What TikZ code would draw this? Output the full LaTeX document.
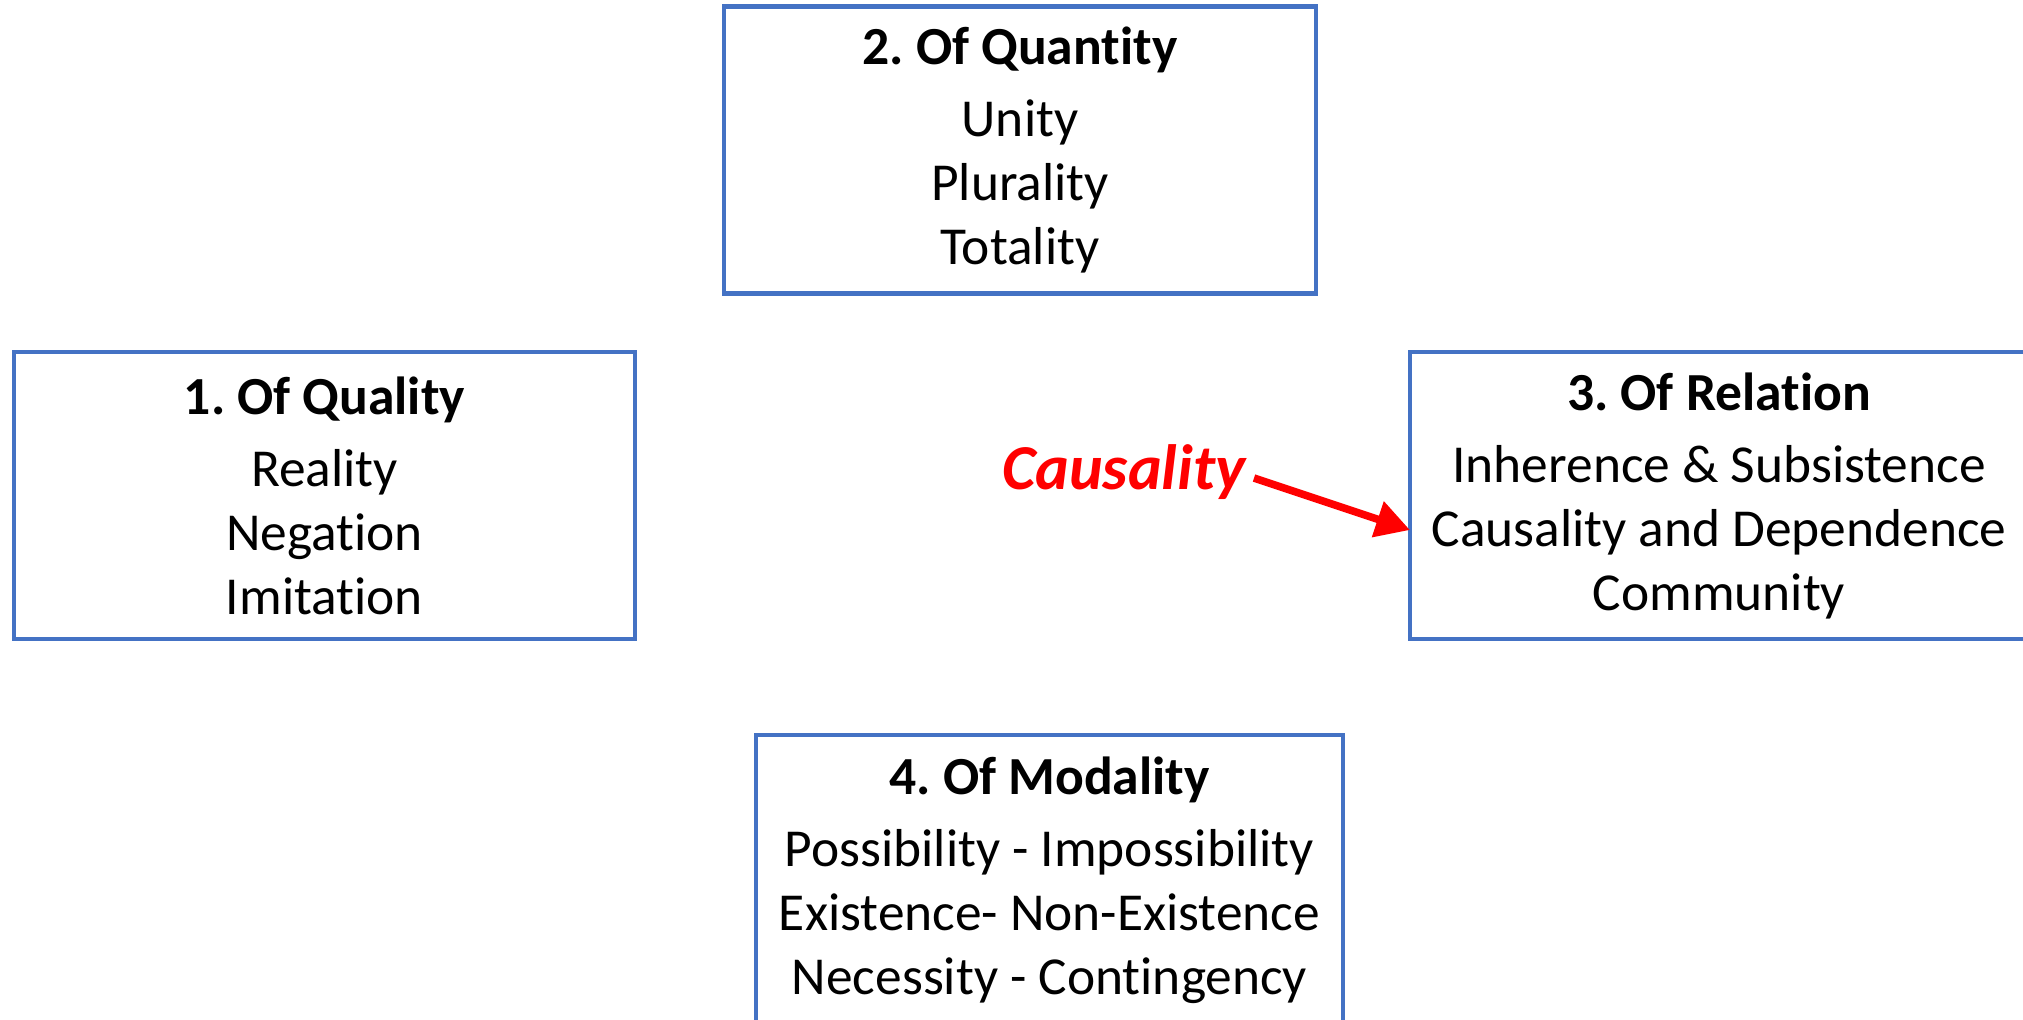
\documentclass[tikz,border=0pt]{standalone}
\usepackage{fontspec}
\setmainfont{Carlito}[Ligatures={NoCommon}]
\usetikzlibrary{arrows.meta}
\definecolor{boxblue}{HTML}{4472C4}
\definecolor{cred}{HTML}{FF0000}
\frenchspacing
\tikzset{
  catbox/.style={draw=boxblue, line width=2.4pt, fill=white, align=center, inner sep=0pt,
     font=\fontsize{26.7pt}{32pt}\selectfont, text=black},
  causelabel/.style={text=cred, font=\fontsize{32pt}{36pt}\selectfont\bfseries\itshape, inner sep=0pt},
  redarrow/.style={draw=cred, line width=3.8pt, -{Triangle[length=17pt,width=18pt]}}
}
\newcommand{\ttl}[1]{{\fontsize{26.8pt}{32pt}\selectfont\textbf{#1}}\\[4pt]}
\begin{document}
\begin{tikzpicture}[x=0.5pt,y=-0.5pt]
\useasboundingbox (0,0) rectangle (2023,1019);
\node[catbox, minimum width=296pt, minimum height=143.5pt] (quantity) at (1020,150)
  {\ttl{2. Of Quantity}Unity\\Plurality\\Totality};
\node[catbox, minimum width=310.5pt, minimum height=143.5pt] (quality) at (324.5,495.5)
  {\ttl{1. Of Quality}Reality\\Negation\\Imitation};
\node[catbox, minimum width=309pt, minimum height=143.5pt] (relation) at (1719,495.5)
  {\ttl{3. Of Relation}Inherence \& Subsistence\\Causality and Dependence\\Community};
\node[catbox, minimum width=293.5pt, minimum height=145pt] (modality) at (1049.5,880)
  {\ttl{4. Of Modality}Possibility - Impossibility\\Existence- Non-Existence\\Necessity - Contingency};
\node[causelabel, anchor=east] (cause) at (1246,472) {Causality};
\coordinate (tip) at (1410,530);
\draw[redarrow] ([shift={(4pt,-3pt)}]cause.east) -- (tip);
\end{tikzpicture}
\end{document}
